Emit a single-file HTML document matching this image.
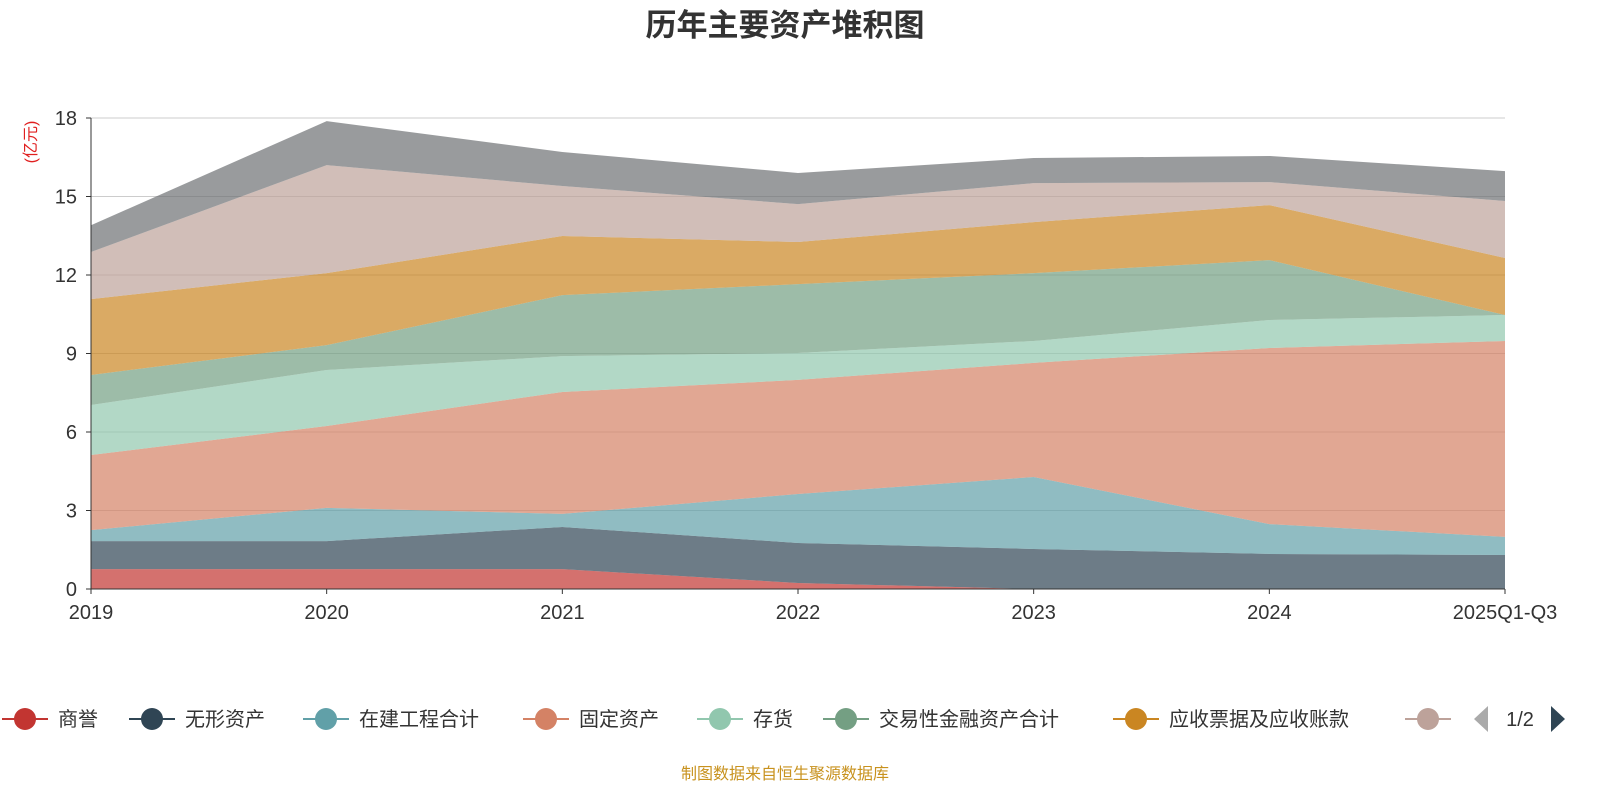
<!DOCTYPE html>
<html><head><meta charset="utf-8"><style>
body{margin:0;background:#fff;}
svg{display:block;font-family:"Liberation Sans","Noto Sans CJK SC",sans-serif;}
</style></head><body>
<svg id="c" width="1600" height="800">
<text x="785" y="36" text-anchor="middle" font-size="31" font-weight="bold" fill="#333">历年主要资产堆积图</text>
<text transform="translate(36,142) rotate(-90)" text-anchor="middle" font-size="16" fill="#e02020">(亿元)</text>
<g id="grid"></g><g id="areas"></g><g id="axes"></g><g id="legend"></g>
<text x="785" y="779" text-anchor="middle" font-size="16" fill="#c8921e">制图数据来自恒生聚源数据库</text>
</svg>
<script>
const categories=["2019","2020","2021","2022","2023","2024","2025Q1-Q3"];
const seriesNames=["商誉","无形资产","在建工程合计","固定资产","存货","交易性金融资产合计","应收票据及应收账款","其他","其他2"];
const s0=[0.76,0.76,0.76,0.23,0,0,0];
const s1=[1.07,1.07,1.61,1.53,1.53,1.34,1.30];
const s2=[0.42,1.27,0.5,1.87,2.75,1.14,0.69];
const s3=[2.87,3.13,4.66,4.36,4.36,6.73,7.49];
const s4=[1.91,2.14,1.37,1.03,0.84,1.07,0.99];
const s5=[1.15,0.95,2.33,2.63,2.59,2.29,0];
const s6=[2.9,2.75,2.26,1.61,1.95,2.1,2.18];
const s7=[1.8,4.13,1.91,1.45,1.49,0.88,2.18];
const s8=[1.02,1.68,1.3,1.19,0.96,1.0,1.14];
const yTicks=[0,3,6,9,12,15,18];
const series=[s0,s1,s2,s3,s4,s5,s6,s7,s8];
const colors=["#c23531","#2f4554","#61a0a8","#d48265","#91c7ae","#749f83","#ca8622","#bda29a","#6e7074"];
const NS="http://www.w3.org/2000/svg";
const X0=91,X1=1505,Y0=589,Y1=118;
const xs=i=>X0+(X1-X0)*i/(categories.length-1);
const ys=v=>Y0-(Y0-Y1)*v/18;
function mk(tag,attrs,parent){const e=document.createElementNS(NS,tag);for(const k in attrs)e.setAttribute(k,attrs[k]);parent.appendChild(e);return e;}
const grid=document.getElementById('grid'),areas=document.getElementById('areas'),axes=document.getElementById('axes'),leg=document.getElementById('legend');
yTicks.forEach(t=>{
  if(t>0){const l=mk('line',{x1:X0,x2:X1,y1:ys(t),y2:ys(t),stroke:'#ccc','stroke-width':1},grid);
  
  }
  const tx=mk('text',{x:X0-14,y:ys(t)+7,'text-anchor':'end','font-size':20,fill:'#333'},axes);tx.textContent=t;
  
  
  mk('line',{x1:X0-5,x2:X0,y1:ys(t),y2:ys(t),stroke:'#333'},axes);
});
let base=categories.map(()=>0);
series.forEach((s,k)=>{
  const top=base.map((b,i)=>b+s[i]);
  let d='M'+top.map((v,i)=>xs(i)+','+ys(v)).join(' L');
  for(let i=categories.length-1;i>=0;i--)d+=' L'+xs(i)+','+ys(base[i]);
  const p=mk('path',{d:d+'Z',fill:colors[k],'fill-opacity':0.7,stroke:'none'},areas);
  
  
  base=top;
});
mk('line',{x1:X0,x2:X0,y1:Y1,y2:Y0,stroke:'#333'},axes);
mk('line',{x1:X0,x2:X1,y1:Y0,y2:Y0,stroke:'#333'},axes);
categories.forEach((c,i)=>{
  mk('line',{x1:xs(i),x2:xs(i),y1:Y0,y2:Y0+5,stroke:'#333'},axes);
  const t=mk('text',{x:xs(i),y:619,'text-anchor':'middle','font-size':20,fill:'#333'},axes);t.textContent=c;
  
  
});
const legX=[25,152,326,546,720,846,1136,1428];
const legNames=["商誉","无形资产","在建工程合计","固定资产","存货","交易性金融资产合计","应收票据及应收账款",""];
legX.forEach((x,k)=>{
  const g=mk('g',{},leg);
  
  
  mk('line',{x1:x-23,x2:x+23,y1:719,y2:719,stroke:colors[k],'stroke-width':2},g);
  mk('circle',{cx:x,cy:719,r:11,fill:colors[k]},g);
  if(legNames[k]){const t=mk('text',{x:x+33,y:726,'font-size':20,fill:'#333'},g);t.textContent=legNames[k];}
});
const pl=mk('path',{d:'M1488,706 L1474,719 L1488,732Z',fill:'#aaa'},leg);


const pt=mk('text',{x:1520,y:726,'text-anchor':'middle','font-size':20,fill:'#333'},leg);pt.textContent='1/2';


const pn=mk('path',{d:'M1551,706 L1565,719 L1551,732Z',fill:'#2f4554'},leg);


</script>
</body></html>
